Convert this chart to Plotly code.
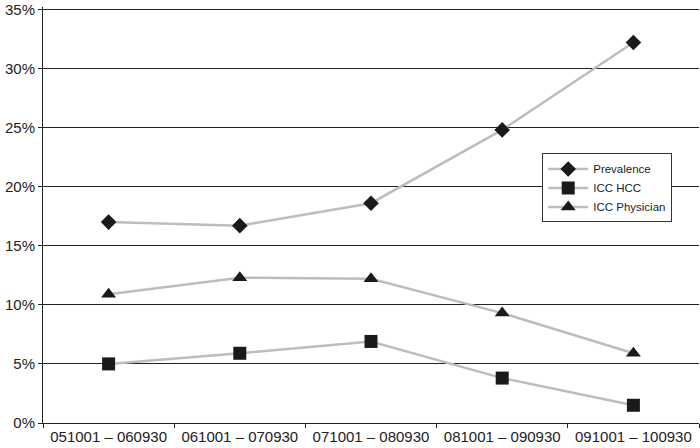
import plotly.graph_objects as go

periods = ["051001 \u2013 060930", "061001 \u2013 070930",
           "071001 \u2013 080930", "081001 \u2013 090930",
           "091001 \u2013 100930"]
prevalence = [0.170, 0.167, 0.186, 0.248, 0.322]
icc_hcc = [0.050, 0.059, 0.069, 0.038, 0.015]
icc_physician = [0.109, 0.123, 0.122, 0.093, 0.059]
y_ticks = [0.0, 0.05, 0.10, 0.15, 0.20, 0.25, 0.30, 0.35]

line_col = "#bdbdbd"
mark_col = "#1a1a1a"

fig = go.Figure()
for name, vals, sym, size in [
    ("Prevalence", prevalence, "diamond", 12),
    ("ICC HCC", icc_hcc, "square", 13),
    ("ICC Physician", icc_physician, "triangle-up", 13),
]:
    fig.add_trace(go.Scatter(
        x=periods, y=vals, name=name, mode="lines+markers",
        line=dict(color=line_col, width=2.5),
        marker=dict(symbol=sym, size=size, color=mark_col),
    ))

fig.update_layout(
    width=700, height=448,
    paper_bgcolor="white", plot_bgcolor="white",
    margin=dict(l=43, r=1, t=5, b=25),
    font=dict(family="Liberation Sans, Arial, sans-serif", size=15, color="#222"),
    showlegend=True,
    legend=dict(
        x=0.761, y=0.648, xanchor="left", yanchor="top",
        bgcolor="white", bordercolor="#333", borderwidth=1,
        font=dict(size=11.5), tracegroupgap=0, itemwidth=40,
    ),
)
fig.update_xaxes(
    range=[-0.5, 4.5], showgrid=False, showline=True, linecolor="#222", linewidth=1,
    ticks="outside", tickson="boundaries", ticklen=4, tickcolor="#222",
)
fig.update_yaxes(
    range=[0, 0.352], tickmode="array", tickvals=y_ticks, tickformat=".0%",
    showgrid=True, gridcolor="#222", gridwidth=1, ticklabeloverflow="allow",
    showline=True, linecolor="#222", linewidth=1,
    ticks="outside", ticklen=4, tickcolor="#222", zeroline=False,
)

# page body has a default 8px margin; drop it so the figure sits at the window corner
fig.write_html("out.html", config={"displayModeBar": False},
               post_script="document.body.style.margin='0';")
